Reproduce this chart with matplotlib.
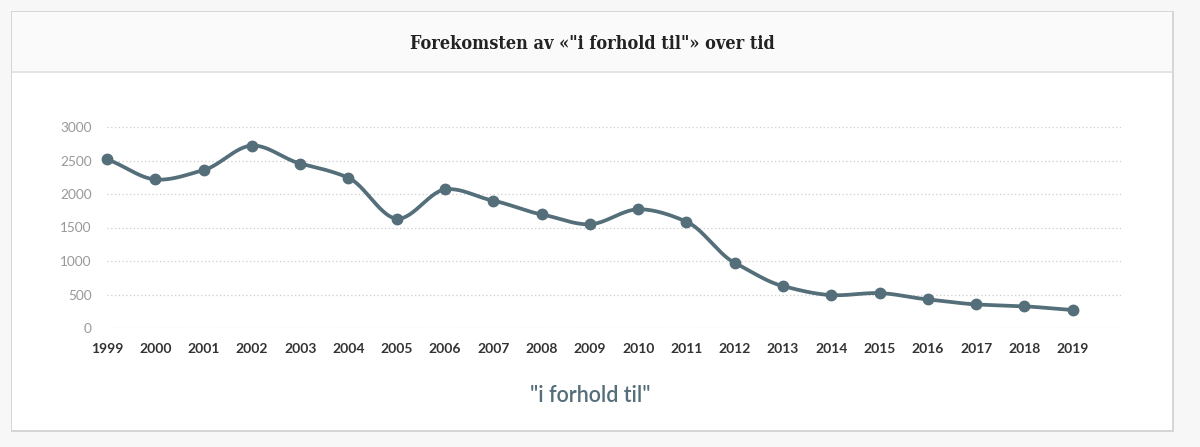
import numpy as np
import matplotlib
matplotlib.use('Agg')
import matplotlib.pyplot as plt
from matplotlib.patches import Rectangle

years = list(range(1999, 2020))
counts = [2515, 2217, 2356, 2723, 2455, 2242, 1632, 2068, 1900, 1696, 1548,
          1771, 1588, 972, 625, 491, 521, 427, 352, 323, 268]
y_ticks = [0, 500, 1000, 1500, 2000, 2500, 3000]
title = 'Forekomsten av «"i forhold til"» over tid'
series_name = '"i forhold til"'

line_col = '#546e7a'
W, H = 1200, 447

fig = plt.figure(figsize=(12, 4.47), dpi=100)
fig.patch.set_facecolor('#f7f7f7')

# kort med skygge
def px_rect(x0, y0, x1, y1, **kw):
    return Rectangle((x0 / W, 1 - y1 / H), (x1 - x0) / W, (y1 - y0) / H,
                     transform=fig.transFigure, **kw)

fig.patches.append(px_rect(11, 11, 1174, 432, facecolor='#d6d6d6', edgecolor='none', zorder=0))
fig.patches.append(px_rect(12, 12, 1172, 430, facecolor='white', edgecolor='none', zorder=1))
fig.patches.append(px_rect(12, 12, 1172, 72, facecolor='#fafafa', edgecolor='none', zorder=2))
fig.patches.append(px_rect(12, 71, 1172, 73, facecolor='#e4e4e4', edgecolor='none', zorder=3))

fig.text(592 / W, 1 - 44 / H, title, ha='center', va='center', fontsize=13,
         fontweight='bold', family='DejaVu Serif', fontstretch='condensed',
         color='#222222', zorder=5)

ax = fig.add_axes([107 / W, 1 - 328 / H, (1121 - 107) / W, (328 - 127) / H])
ax.set_facecolor('none')
ax.set_zorder(4)

# glatt kurve gjennom punktene (Catmull-Rom)
x = np.array(years, dtype=float)
y = np.array(counts, dtype=float)
px = np.concatenate([[2 * x[0] - x[1]], x, [2 * x[-1] - x[-2]]])
py = np.concatenate([[2 * y[0] - y[1]], y, [2 * y[-1] - y[-2]]])
xs, ys = [], []
t = np.linspace(0, 1, 30)
for i in range(1, len(px) - 2):
    p0, p1, p2, p3 = py[i - 1], py[i], py[i + 1], py[i + 2]
    m1 = (p2 - p0) / 2 * 0.75
    m2 = (p3 - p1) / 2 * 0.75
    h00 = 2 * t**3 - 3 * t**2 + 1
    h10 = t**3 - 2 * t**2 + t
    h01 = -2 * t**3 + 3 * t**2
    h11 = t**3 - t**2
    xs.append(px[i] + (px[i + 1] - px[i]) * t)
    ys.append(h00 * p1 + h10 * m1 + h01 * p2 + h11 * m2)
ax.plot(np.concatenate(xs), np.concatenate(ys), color=line_col, lw=2.7,
        solid_capstyle='round', zorder=3, clip_on=False)
ax.plot(years, counts, 'o', color=line_col, ms=7.5, zorder=4, clip_on=False)

ax.set_xlim(1999, 2020)
ax.set_ylim(0, 3000)
ax.set_yticks(y_ticks)
ax.set_xticks(years)
ax.set_xticklabels([str(v) for v in years], fontsize=10, color='#333333',
                   family='Lato', fontweight='bold')
ax.set_yticklabels([str(v) for v in y_ticks], fontsize=9.8, color='#999999', family='Lato')
ax.tick_params(axis='both', length=0)
ax.tick_params(axis='y', pad=11)
ax.tick_params(axis='x', pad=11)
for s in ax.spines.values():
    s.set_visible(False)
ax.grid(axis='y', color='#cccccc', ls=(0, (1, 2)), lw=0.9)
ax.set_axisbelow(True)

fig.text(590 / W, 1 - 395 / H, series_name, ha='center', va='center', fontsize=15.5,
         family='Lato', color=line_col, fontweight='semibold')

fig.savefig('out.png', dpi=100, facecolor=fig.get_facecolor())
